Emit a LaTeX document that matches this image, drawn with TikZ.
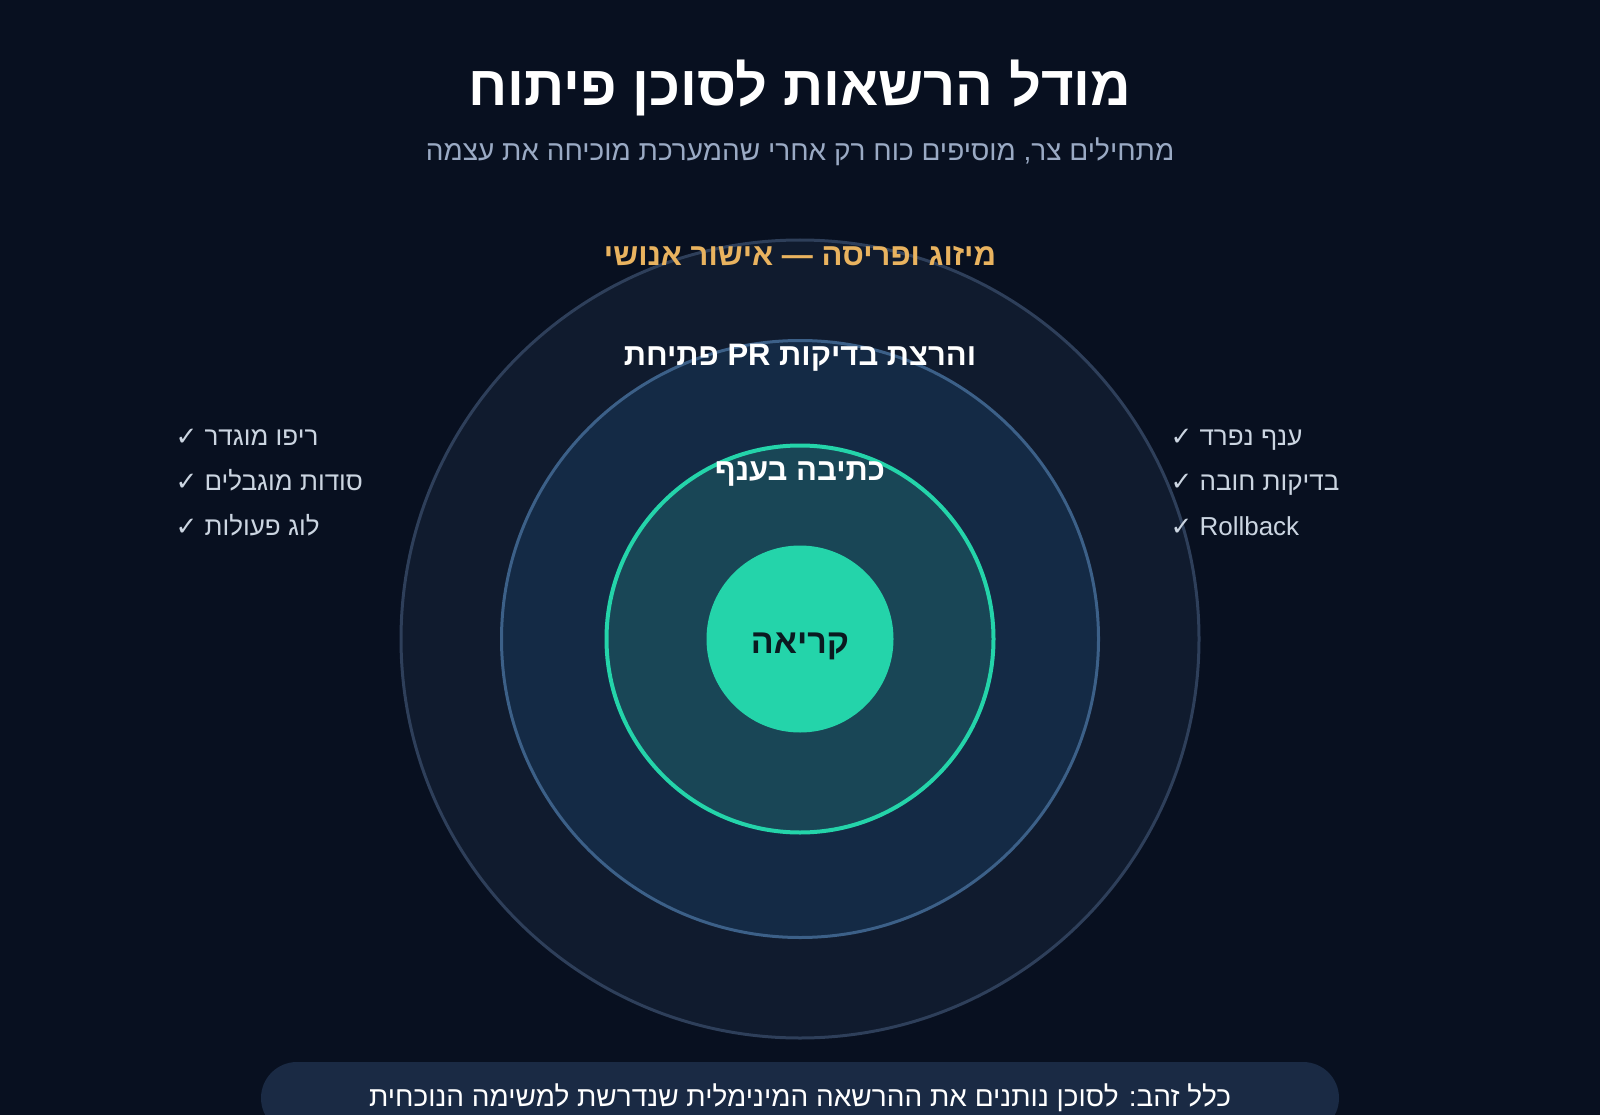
\documentclass[tikz,border=0pt]{standalone}
\usepackage{fontspec}
\setmainfont{Liberation Sans}[Script=Hebrew]
\newfontfamily\checkfont{DejaVu Sans}
\TeXXeTstate=1
\definecolor{bgdark}{HTML}{081020}
\definecolor{outerfill}{HTML}{101B2E}
\definecolor{outerline}{HTML}{2E3F5A}
\definecolor{midfill}{HTML}{142A45}
\definecolor{midline}{HTML}{3C6088}
\definecolor{innerfill}{HTML}{194656}
\definecolor{mint}{HTML}{24D4AA}
\definecolor{subgray}{HTML}{9AAAC4}
\definecolor{listgray}{HTML}{CBD5E1}
\definecolor{amber}{HTML}{E9B35F}
\definecolor{boxfill}{HTML}{1A2A44}
\definecolor{coretext}{HTML}{0A1A20}

\begin{document}
\begin{tikzpicture}[x=1pt, y=-1pt,
    ring/.style={circle, draw, inner sep=0pt, line width=3pt},
    ringlabel/.style={font=\bfseries\fontsize{31}{33}\selectfont, text=white},
    checkitem/.style={anchor=base west, text=listgray, font=\fontsize{26}{28}\selectfont}]
    \fill[bgdark] (0,0) rectangle (1600,1115);
    \useasboundingbox (0,0) rectangle (1600,1115);

    % title
    \node[text=white, font=\bfseries\fontsize{56}{60}\selectfont] (title) at (800,88)
        {\beginR מודל הרשאות לסוכן פיתוח\endR};
    \node[text=subgray, font=\fontsize{28}{30}\selectfont] (subtitle) at (800,152)
        {\beginR מתחילים צר, מוסיפים כוח רק אחרי שהמערכת מוכיחה את עצמה\endR};

    % rings
    \node[ring, fill=outerfill, draw=outerline, minimum size=798pt] (merge) at (800,639) {};
    \node[ring, fill=midfill, draw=midline, minimum size=597pt] (pr) at (800,639) {};
    \node[ring, fill=innerfill, draw=mint, line width=4pt, minimum size=387pt] (branch) at (800,639) {};
    \node[circle, fill=mint, inner sep=0pt, minimum size=187pt] (read) at (800,639) {};

    \node[ringlabel, text=amber] (mergelabel) at (800,256) {\beginR מיזוג ופריסה — אישור אנושי\endR};
    \node[ringlabel] (prlabel) at (800,358) {\beginR והרצת בדיקות PR פתיחת\endR};
    \node[ringlabel] (branchlabel) at (800,474) {\beginR כתיבה בענף\endR};
    \node[text=coretext, font=\bfseries\fontsize{34}{36}\selectfont] (readlabel) at (800,646)
        {\beginR קריאה\endR};

    % side lists
    \node[checkitem] (repo) at (172,445) {{\checkfont ✓}\ \beginR ריפו מוגדר\endR};
    \node[checkitem] (secrets) at (172,490) {{\checkfont ✓}\ \beginR סודות מוגבלים\endR};
    \node[checkitem] (log) at (172,535) {{\checkfont ✓}\ \beginR לוג פעולות\endR};
    \node[checkitem] (sepbranch) at (1167,445) {{\checkfont ✓}\ \beginR ענף נפרד\endR};
    \node[checkitem] (tests) at (1167,490) {{\checkfont ✓}\ \beginR בדיקות חובה\endR};
    \node[checkitem] (rollback) at (1167,535) {{\checkfont ✓}\ Rollback};

    % golden rule
    \node[fill=boxfill, rounded corners=36pt, minimum width=1078pt, minimum height=72pt,
        text=white, font=\fontsize{28}{30}\selectfont] (rule) at (800,1098)
        {\beginR כלל זהב: לסוכן נותנים את ההרשאה המינימלית שנדרשת למשימה הנוכחית\endR};
\end{tikzpicture}
\end{document}
